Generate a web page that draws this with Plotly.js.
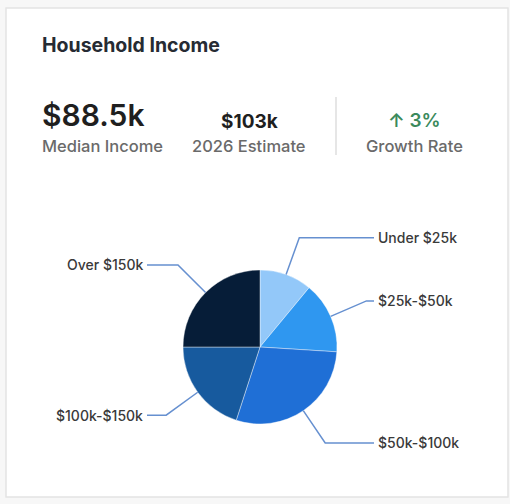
<!DOCTYPE html>
<html>
<head>
<meta charset="utf-8">
<script src="https://cdn.plot.ly/plotly-3.0.1.min.js"></script>
<style>
html,body{margin:0;padding:0;background:#f3f3f3;}
#chart{width:510px;height:504px;}
</style>
</head>
<body>
<div id="chart"></div>
<script>
// ---- data ----
var categories = ["Under $25k", "$25k-$50k", "$50k-$100k", "$100k-$150k", "Over $150k"];
var shares = [11, 15, 29, 20, 25];
var sliceColors = ["#93c8f9", "#2f97f0", "#1f6fd6", "#175a9e", "#061d38"];
var statValues = ["$88.5k", "$103k", "\u2191 3%"];
var statLabels = ["Median Income", "2026 Estimate", "Growth Rate"];

// ---- layout helpers ----
var W = 510, H = 504;
function px(x){ return x / W; }
function py(y){ return 1 - y / H; }

var cx = 260, cy = 347, R = 77;           // pie centre/radius in pixels
var elbowR = 116;                          // leader elbow radius
var rightX = 374, leftX = 147;             // label anchor x

var font = "Inter, 'Open Sans', sans-serif";

var pie = {
  type: "pie",
  labels: categories,
  values: shares,
  sort: false,
  direction: "clockwise",
  rotation: 0,
  textinfo: "none",
  hoverinfo: "label+percent",
  marker: {colors: sliceColors, line: {color: "rgba(255,255,255,0.5)", width: 0.8}},
  domain: {x: [px(cx - R), px(cx + R)], y: [py(cy + R), py(cy - R)]},
  showlegend: false
};

var shapes = [
  {type: "rect", xref: "paper", yref: "paper", x0: px(6), x1: px(508), y0: py(497), y1: py(8),
   line: {color: "#e4e4e4", width: 1.5}, fillcolor: "#ffffff", layer: "below"},
  {type: "line", xref: "paper", yref: "paper", x0: px(336), x1: px(336), y0: py(97), y1: py(155),
   line: {color: "#dedede", width: 1.5}}
];

var annotations = [
  {text: "Household Income", x: px(40), y: py(45), xanchor: "left", yanchor: "middle",
   font: {family: font, size: 19.5, weight: 700, color: "#262b33"}}
];

// stats
var statX = [40, 249, 414];
var statAnchor = ["left", "center", "center"];
var statSizes = [30, 19, 19];
var statWeights = [600, 700, 600];
var statY = [115, 121, 120];
var statColors = ["#1f1f1f", "#1f1f1f", "#3b8a5c"];
for (var i = 0; i < statValues.length; i++) {
  annotations.push({text: statValues[i], x: px(statX[i]), y: py(statY[i]),
    xanchor: statAnchor[i], yanchor: "middle",
    font: {family: font, size: statSizes[i], weight: statWeights[i], color: statColors[i]}});
  annotations.push({text: statLabels[i], x: px(statX[i]), y: py(146),
    xanchor: statAnchor[i], yanchor: "middle",
    font: {family: font, size: 16.5, weight: 500, color: "#6a6a6a"}});
}

// leader lines + labels computed from the data
var total = shares.reduce(function(a,b){return a+b;}, 0);
var cum = 0;
for (var k = 0; k < shares.length; k++) {
  var mid = (cum + shares[k] / 2) / total * 2 * Math.PI;
  cum += shares[k];
  var sx = Math.sin(mid), sy = -Math.cos(mid);
  var ex = cx + R * sx, ey = cy + R * sy;
  var bx = cx + elbowR * sx, by = cy + elbowR * sy;
  var right = sx >= 0;
  var tx = right ? rightX : leftX;
  shapes.push({type: "path", xref: "paper", yref: "paper",
    path: "M" + px(ex) + "," + py(ey) + " L" + px(bx) + "," + py(by) + " L" + px(tx) + "," + py(by),
    line: {color: "#6690d0", width: 1.5}});
  annotations.push({text: categories[k], x: px(right ? tx + 2 : tx - 2), y: py(by),
    xanchor: right ? "left" : "right", yanchor: "middle",
    font: {family: font, size: 14, weight: 500, color: "#3a3a3a"}});
}

annotations.forEach(function(a){ a.xref = "paper"; a.yref = "paper"; a.showarrow = false; });

var layout = {
  width: W, height: H,
  margin: {l: 0, r: 0, t: 0, b: 0},
  paper_bgcolor: "#f7f7f7",
  plot_bgcolor: "#ffffff",
  shapes: shapes,
  annotations: annotations,
  showlegend: false
};

Plotly.newPlot("chart", [pie], layout, {displayModeBar: false, staticPlot: true});
</script>
</body>
</html>
